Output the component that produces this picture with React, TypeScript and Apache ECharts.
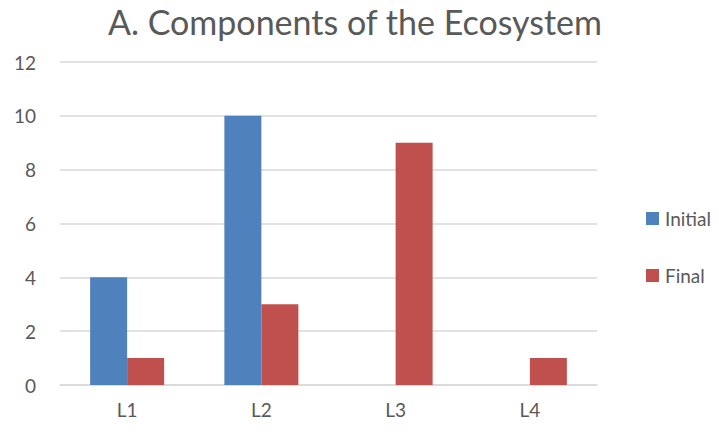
import React, { useEffect, useRef } from "react";
import * as echarts from "echarts";

const categories = ["L1", "L2", "L3", "L4"];
const initialValues = [4, 10, 0, 0];
const finalValues = [1, 3, 9, 1];
const seriesNames = ["Initial", "Final"];
const titleText = "A. Components of the Ecosystem";

export default function App() {
  const ref = useRef<HTMLDivElement>(null);
  useEffect(() => {
    if (!ref.current) return;
    const chart = echarts.init(ref.current, undefined, { renderer: "svg" });
    const font = "Lato, 'Open Sans', sans-serif";
    chart.setOption({
      animation: false,
      backgroundColor: "#ffffff",
      title: {
        text: titleText,
        left: 350,
        textAlign: "center",
        top: -1,
        textStyle: { fontFamily: font, fontSize: 34, fontWeight: "normal", color: "#595959" },
      },
      legend: {
        orient: "vertical",
        left: 641,
        top: 204,
        itemWidth: 13,
        itemHeight: 13,
        itemGap: 38,
        icon: "rect",
        data: seriesNames,
        textStyle: { fontFamily: font, fontSize: 19, color: "#595959", padding: [0, 0, 0, 1] },
      },
      grid: { left: 60, right: 122, top: 62, bottom: 47, containLabel: false },
      xAxis: {
        type: "category",
        data: categories,
        axisLine: { lineStyle: { color: "#d9d9d9", width: 1.5 } },
        axisTick: { show: false },
        axisLabel: { fontFamily: font, fontSize: 19, color: "#595959", margin: 15 },
      },
      yAxis: {
        type: "value",
        min: 0,
        max: 12,
        interval: 2,
        axisLine: { show: false },
        axisTick: { show: false },
        splitLine: { lineStyle: { color: "#d9d9d9", width: 1.5 } },
        axisLabel: { fontFamily: font, fontSize: 19, color: "#595959", margin: 24 },
      },
      series: [
        {
          name: seriesNames[0],
          type: "bar",
          data: initialValues,
          barWidth: 37,
          barGap: "0%",
          itemStyle: { color: "#4F81BD" },
        },
        {
          name: seriesNames[1],
          type: "bar",
          data: finalValues,
          barWidth: 37,
          barGap: "0%",
          itemStyle: { color: "#C0504D" },
        },
      ],
    });
    return () => chart.dispose();
  }, []);
  return (
    <div
      ref={ref}
      style={{ position: "fixed", left: 0, top: 0, width: 719, height: 432 }}
    />
  );
}
